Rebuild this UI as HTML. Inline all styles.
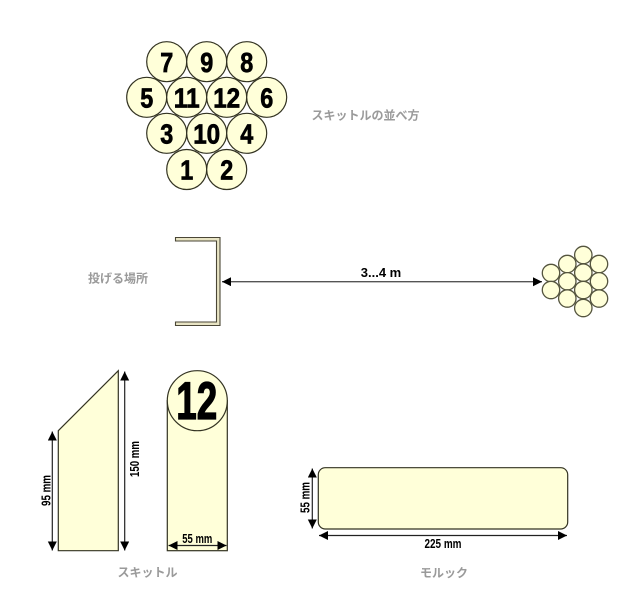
<!DOCTYPE html>
<html>
<head>
<meta charset="utf-8">
<style>
html,body{margin:0;padding:0;background:#fff;}
svg{display:block;}
.jp{font-family:"Liberation Sans","Noto Sans CJK JP",sans-serif;font-size:12px;font-weight:bold;fill:#9a9a9a;text-anchor:middle;}
.d{font-family:"Liberation Sans",sans-serif;font-size:28px;font-weight:bold;fill:#000;text-anchor:middle;stroke:#000;stroke-width:.7;}
.m{font-family:"Liberation Sans",sans-serif;font-size:13px;font-weight:bold;fill:#000;text-anchor:middle;}
.c{fill:#ffffd9;stroke:#333322;stroke-width:1.2;}
.s{fill:#ffffd9;stroke:#55553f;stroke-width:1.3;}
.l{stroke:#222;stroke-width:1.2;fill:none;}
</style>
</head>
<body>
<svg width="635" height="600" viewBox="0 0 635 600" xmlns="http://www.w3.org/2000/svg">
<defs>
<marker id="a" markerUnits="userSpaceOnUse" markerWidth="10" markerHeight="12" refX="9" refY="4.5" orient="auto-start-reverse"><path d="M0 0L9 4.5L0 9Z" fill="#000"/></marker>
</defs>

<!-- Top cluster -->
<g>
<circle cx="166.7" cy="61.7" r="20" class="c"/><circle cx="206.7" cy="61.7" r="20" class="c"/><circle cx="246.7" cy="61.7" r="20" class="c"/>
<circle cx="146.7" cy="97.3" r="20" class="c"/><circle cx="186.7" cy="97.3" r="20" class="c"/><circle cx="226.7" cy="97.3" r="20" class="c"/><circle cx="266.7" cy="97.3" r="20" class="c"/>
<circle cx="166.7" cy="133.3" r="20" class="c"/><circle cx="206.7" cy="133.3" r="20" class="c"/><circle cx="246.7" cy="133.3" r="20" class="c"/>
<circle cx="186.7" cy="169.5" r="20" class="c"/><circle cx="226.7" cy="169.5" r="20" class="c"/>
</g>
<g>
<text class="d" x="166.7" y="72" textLength="13" lengthAdjust="spacingAndGlyphs">7</text>
<text class="d" x="206.7" y="72" textLength="13" lengthAdjust="spacingAndGlyphs">9</text>
<text class="d" x="246.7" y="72" textLength="13" lengthAdjust="spacingAndGlyphs">8</text>
<text class="d" x="146.7" y="107.5" textLength="13" lengthAdjust="spacingAndGlyphs">5</text>
<text class="d" x="186.7" y="107.5" textLength="26" lengthAdjust="spacingAndGlyphs">11</text>
<text class="d" x="226.7" y="107.5" textLength="27" lengthAdjust="spacingAndGlyphs">12</text>
<text class="d" x="266.7" y="107.5" textLength="13" lengthAdjust="spacingAndGlyphs">6</text>
<text class="d" x="166.7" y="143.5" textLength="13" lengthAdjust="spacingAndGlyphs">3</text>
<text class="d" x="206.7" y="143.5" textLength="27" lengthAdjust="spacingAndGlyphs">10</text>
<text class="d" x="246.7" y="143.5" textLength="13" lengthAdjust="spacingAndGlyphs">4</text>
<text class="d" x="186.7" y="179.5" textLength="13" lengthAdjust="spacingAndGlyphs">1</text>
<text class="d" x="226.7" y="179.5" textLength="13" lengthAdjust="spacingAndGlyphs">2</text>
</g>
<text class="jp" x="365.5" y="119.5">スキットルの並べ方</text>

<!-- Bracket -->
<path d="M175.5 237.5H220V325.5H175.5V322H216.5V241H175.5Z" fill="#e8e4c4" stroke="#4a4636" stroke-width="1.1"/>
<text class="jp" x="118" y="282.5">投げる場所</text>

<!-- Distance arrow -->
<line x1="222" y1="281.7" x2="542" y2="281.7" stroke="#555" stroke-width="1.3" marker-start="url(#a)" marker-end="url(#a)"/>
<text x="381" y="277" font-family="Liberation Sans, sans-serif" font-size="13" font-weight="bold" text-anchor="middle" fill="#000">3...4 m</text>

<!-- Small cluster -->
<g>
<circle cx="583.3" cy="255" r="8.7" class="s"/>
<circle cx="567.3" cy="264" r="8.7" class="s"/><circle cx="599" cy="264" r="8.7" class="s"/>
<circle cx="551" cy="273" r="8.7" class="s"/><circle cx="583.3" cy="272.7" r="8.7" class="s"/>
<circle cx="567.3" cy="281.3" r="8.7" class="s"/><circle cx="599" cy="281.3" r="8.7" class="s"/>
<circle cx="551" cy="290" r="8.7" class="s"/><circle cx="583.3" cy="290" r="8.7" class="s"/>
<circle cx="567.3" cy="298.5" r="8.7" class="s"/><circle cx="599" cy="298.5" r="8.7" class="s"/>
<circle cx="583.3" cy="308" r="8.7" class="s"/>
</g>

<!-- Skittle side -->
<path d="M58.3 430.7L118.3 370.7V550.7H58.3Z" class="c"/>
<line x1="52.3" y1="431.5" x2="52.3" y2="550.5" class="l" marker-start="url(#a)" marker-end="url(#a)"/>
<line x1="124.7" y1="371.5" x2="124.7" y2="550.5" class="l" marker-start="url(#a)" marker-end="url(#a)"/>
<text class="m" transform="translate(50.5,490.5) rotate(-90)" textLength="31" lengthAdjust="spacingAndGlyphs">95 mm</text>
<text class="m" transform="translate(139,459) rotate(-90)" textLength="36" lengthAdjust="spacingAndGlyphs">150 mm</text>

<!-- Skittle front -->
<rect x="167.3" y="400.7" width="60" height="150" class="c"/>
<circle cx="197.3" cy="400.7" r="30" class="c"/>
<text x="196.8" y="419" font-family="Liberation Sans, sans-serif" font-size="53" font-weight="bold" text-anchor="middle" fill="#000" stroke="#000" stroke-width="1.3" textLength="41" lengthAdjust="spacingAndGlyphs">12</text>
<line x1="168.5" y1="545.5" x2="226.5" y2="545.5" class="l" marker-start="url(#a)" marker-end="url(#a)"/>
<text class="m" x="197.3" y="543" textLength="30" lengthAdjust="spacingAndGlyphs">55 mm</text>
<text class="jp" x="147.5" y="576.5">スキットル</text>

<!-- Molkky -->
<rect x="318.3" y="467.7" width="249.4" height="61.3" rx="7" ry="7" class="c"/>
<line x1="312.3" y1="468.5" x2="312.3" y2="528.5" class="l" marker-start="url(#a)" marker-end="url(#a)"/>
<text class="m" transform="translate(309.5,497.5) rotate(-90)" textLength="31" lengthAdjust="spacingAndGlyphs">55 mm</text>
<line x1="319" y1="535.5" x2="567" y2="535.5" class="l" marker-start="url(#a)" marker-end="url(#a)"/>
<text class="m" x="443" y="548" textLength="37" lengthAdjust="spacingAndGlyphs">225 mm</text>
<text class="jp" x="444" y="577">モルック</text>
</svg>
</body>
</html>
